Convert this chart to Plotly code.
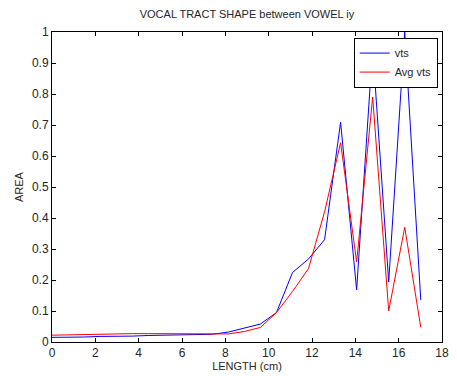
import plotly.graph_objects as go

# Sample positions along the tract (cm)
length_cm = [0.00, 0.74, 1.48, 2.22, 2.96, 3.70, 4.44, 5.18, 5.92, 6.66, 7.40, 8.14,
             8.88, 9.62, 10.36, 11.10, 11.84, 12.58, 13.32, 14.06, 14.80, 15.54, 16.28, 17.02]

# Area function of the vowel and its averaged version
vts = [0.015, 0.015, 0.016, 0.018, 0.018, 0.019, 0.021, 0.022, 0.023, 0.024, 0.025, 0.032,
       0.045, 0.058, 0.095, 0.224, 0.268, 0.330, 0.709, 0.168, 0.950, 0.194, 1.000, 0.135]
avg_vts = [0.022, 0.023, 0.026, 0.027, 0.027, 0.027, 0.027, 0.027, 0.027, 0.026, 0.026, 0.026,
           0.034, 0.047, 0.095, 0.163, 0.237, 0.420, 0.643, 0.258, 0.790, 0.100, 0.370, 0.047]

x_ticks = [0, 2, 4, 6, 8, 10, 12, 14, 16, 18]
y_ticks = [0, 0.1, 0.2, 0.3, 0.4, 0.5, 0.6, 0.7, 0.8, 0.9, 1]
y_tick_text = ["0", "0.1", "0.2", "0.3", "0.4", "0.5", "0.6", "0.7", "0.8", "0.9", "1"]

FONT = "Liberation Sans, Arial, sans-serif"
TXT = "#262626"

fig = go.Figure()
fig.add_trace(go.Scatter(x=length_cm, y=vts, mode="lines", name="vts",
                         line=dict(color="#0000ff", width=1)))
fig.add_trace(go.Scatter(x=length_cm, y=avg_vts, mode="lines", name="Avg vts",
                         line=dict(color="#ff0000", width=1)))

axis_common = dict(showline=True, linecolor="black", linewidth=1, mirror="ticks",
                   ticks="inside", ticklen=4, tickcolor="black", showgrid=False,
                   zeroline=False, tickfont=dict(family=FONT, size=12, color=TXT))

fig.update_layout(
    width=457, height=376,
    margin=dict(l=52, r=8, t=32, b=32),
    paper_bgcolor="white", plot_bgcolor="white",
    font=dict(family=FONT, size=11, color=TXT),
    title=dict(text="VOCAL TRACT SHAPE between VOWEL iy", x=0.5, xref="paper",
               xanchor="center", y=1 - 14 / 376, yanchor="middle",
               font=dict(family=FONT, size=11, color=TXT)),
    xaxis=dict(range=[0, 18], tickvals=x_ticks, ticktext=[str(v) for v in x_ticks],
               title=dict(text="LENGTH (cm)", standoff=0,
                          font=dict(family=FONT, size=11, color=TXT)),
               **axis_common),
    yaxis=dict(range=[0, 1], tickvals=y_ticks, ticktext=y_tick_text,
               title=dict(text="AREA", standoff=6,
                          font=dict(family=FONT, size=11, color=TXT)),
               **axis_common),
    legend=dict(x=0.989, y=0.982, xanchor="right", yanchor="top",
                bgcolor="white", bordercolor="black", borderwidth=1,
                font=dict(family=FONT, size=11, color=TXT),
                tracegroupgap=0, itemwidth=30),
    showlegend=True,
)

fig.write_html("out.html")
